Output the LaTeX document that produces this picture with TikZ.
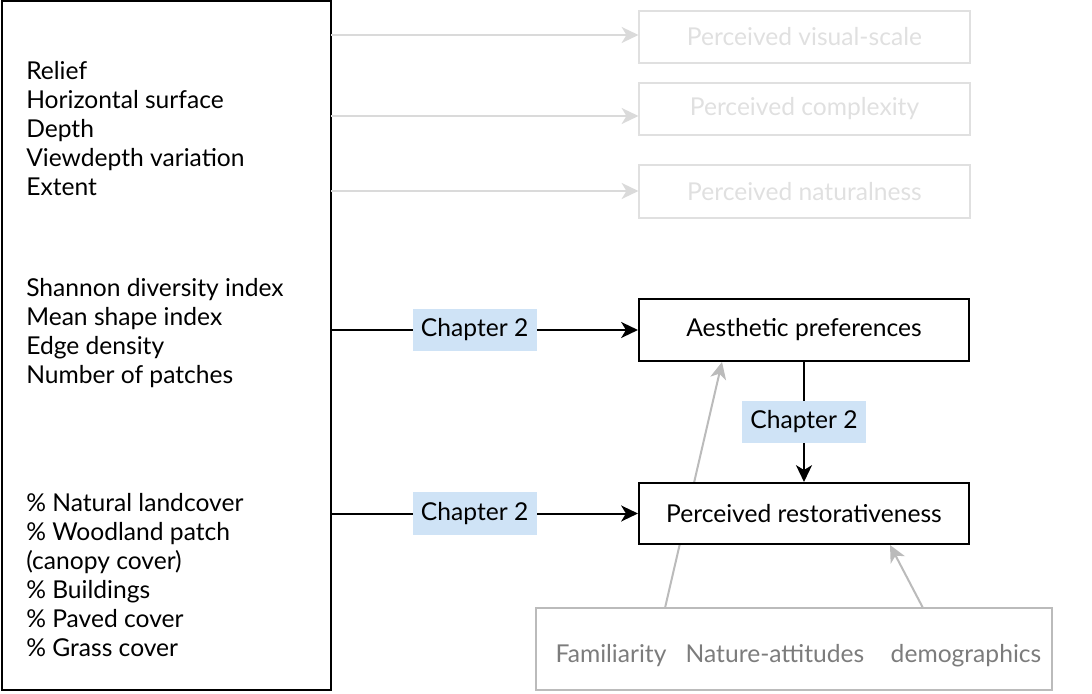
\documentclass[tikz,border=0pt]{standalone}
\usepackage{fontspec}
\setmainfont{Lato}
\usetikzlibrary{arrows.meta}
\usetikzlibrary{positioning}

\definecolor{faint}{HTML}{E0E0E0}
\definecolor{faintline}{HTML}{DADADA}
\definecolor{midgray}{HTML}{BBBBBB}
\definecolor{graytext}{HTML}{7C7C7C}
\definecolor{chapblue}{HTML}{CFE3F6}

\begin{document}
\begin{tikzpicture}[x=0.025cm, y=-0.025cm,
  every node/.style={font=\fontsize{17.5}{21}\selectfont, inner sep=0pt},
  blackbox/.style={draw=black, line width=0.05cm, fill=white,
    minimum width=8.25cm, minimum height=1.55cm},
  fadebox/.style={draw=faint, line width=0.05cm, text=faint,
    minimum width=8.25cm, minimum height=1.3cm},
  chapter/.style={fill=chapblue, minimum width=3.1cm, minimum height=1.05cm},
  item/.style={anchor=base west},
  link/.style={line width=0.05cm,
    -{Stealth[length=0.42cm, width=0.4cm, inset=0.12cm]}},
  fadelink/.style={link, draw=faintline},
  graylink/.style={link, draw=midgray}]

  \useasboundingbox (0,0) rectangle (1092,694);

  % landscape metrics
  \node[draw, line width=0.05cm, minimum width=8.225cm, minimum height=17.225cm]
    (vars) at (166.5,345.5) {};
  \foreach \t [count=\i] in {Relief, Horizontal surface, Depth,
      Viewdepth variation, Extent}{
    \node[item] (geo\i) at (26, {80+29*(\i-1)}) {\t};
  }
  \foreach \t [count=\i] in {Shannon diversity index, Mean shape index,
      Edge density, Number of patches}{
    \node[item] (pat\i) at (26, {297+29*(\i-1)}) {\t};
  }
  \foreach \t [count=\i] in {\% Natural landcover, \% Woodland patch,
      (canopy cover), \% Buildings, \% Paved cover, \% Grass  cover}{
    \node[item] (cov\i) at (26, {511.5+29*(\i-1)}) {\t};
  }

  % faded perceptions
  \node[fadebox] (scale) at (804.5,37) {Perceived visual-scale};
  \node[fadebox] (complex) at (804.5,109) {Perceived complexity};
  \node[fadebox] (natural) at (804.5,191.5) {Perceived naturalness};

  \coordinate (s1) at (331,35);
  \coordinate (s2) at (331,116);
  \coordinate (s3) at (331,191);
  \draw[fadelink] (s1) -- (scale.west |- s1);
  \draw[fadelink] (s2) -- (complex.west |- s2);
  \draw[fadelink] (s3) -- (natural.west |- s3);

  % outcomes
  \node[blackbox] (aesth) at (804,330) {Aesthetic preferences};

  \coordinate (f1) at (665,608);
  \coordinate (f2) at (923,608);
  \draw[graylink] (f1) -- (aesth.south -| 722,0);

  \node[blackbox, minimum height=1.525cm] (restor) at (804,513.5)
    {Perceived restorativeness};
  \draw[graylink] (f2) -- (restor.south -| 890,0);

  \draw[link] (vars.east |- aesth) -- node[chapter, pos=0.466] (ch1) {Chapter 2} (aesth);
  \draw[link] (vars.east |- restor) -- node[chapter, pos=0.466] (ch2) {Chapter 2} (restor);
  \draw[link] (aesth) -- node[chapter] (ch3) {Chapter 2} (restor);

  % covariates
  \node[draw=midgray, line width=0.05cm, minimum width=12.9cm, minimum height=2.05cm]
    (factors) at (794,649) {};
  \node[anchor=base, text=graytext] (famil) at (611,662) {Familiarity};
  \node[anchor=base, text=graytext] (attit) at (775,662) {Nature-attitudes};
  \node[anchor=base, text=graytext] (demog) at (966,662) {demographics};
\end{tikzpicture}
\end{document}
